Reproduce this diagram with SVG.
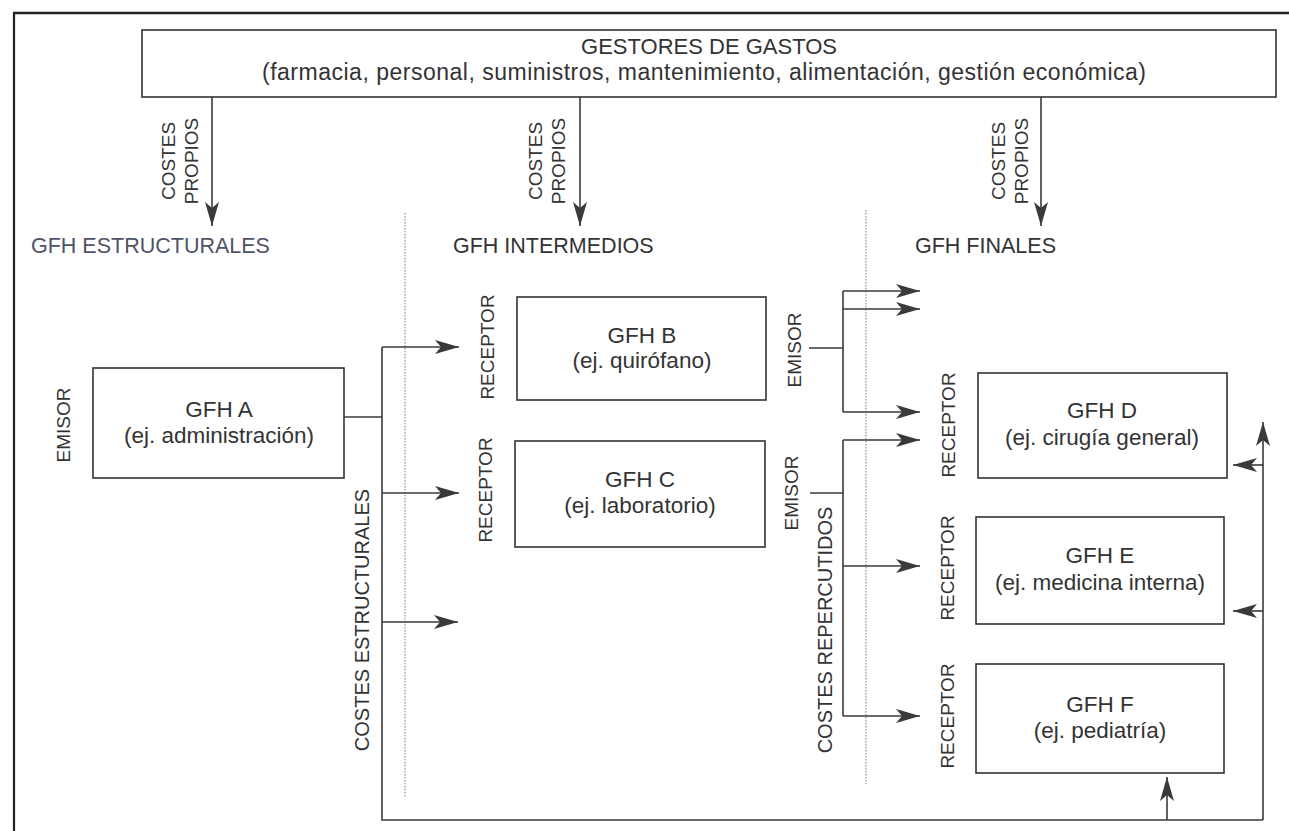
<svg xmlns="http://www.w3.org/2000/svg" width="1289" height="831" viewBox="0 0 1289 831">
<style>
.frame{stroke:#222;fill:none}
.box{fill:#fff;stroke:#333;stroke-width:1.6}
.t{font-family:"Liberation Sans",Arial,sans-serif;fill:#333}
.node{font-size:22.5px;text-anchor:middle}
.head{font-size:21.5px}
.rot{font-size:19px;text-anchor:middle;dominant-baseline:central}
.big{font-size:20px}
.ln{stroke:#3a3a3a;stroke-width:1.6;fill:none}
.arr{marker-end:url(#ah)}
.dot{stroke:#999;stroke-width:1.3;stroke-dasharray:1.5 1.5;fill:none}
</style>
<defs>
<marker id="ah" viewBox="0 0 24 14" refX="24" refY="7" markerWidth="24" markerHeight="14" markerUnits="userSpaceOnUse" orient="auto">
<path d="M0,0 L24,7 L0,14 L6,7 Z" fill="#3a3a3a"/>
</marker>
</defs>
<rect width="1289" height="831" fill="#fff"/>
<g id="frame">
<line class="frame" x1="13" y1="13" x2="1289" y2="13" stroke-width="2.6"/>
<line class="frame" x1="14" y1="13" x2="14" y2="831" stroke-width="2.2"/>
</g>
<g id="gestores">
<rect class="box" x="142" y="30" width="1134" height="67"/>
<text class="t" x="709" y="54" font-size="22" text-anchor="middle">GESTORES DE GASTOS</text>
<text class="t" x="262" y="80" font-size="23" textLength="884">(farmacia, personal, suministros, mantenimiento, alimentación, gestión económica)</text>
</g>
<g id="headings">
<text class="t head" x="31" y="253" style="fill:#4e5468">GFH ESTRUCTURALES</text>
<text class="t head" x="453" y="253">GFH INTERMEDIOS</text>
<text class="t head" x="915" y="253">GFH FINALES</text>
</g>
<g id="dividers">
<line class="dot" x1="405" y1="213" x2="405" y2="797"/>
<line class="dot" x1="866" y1="210" x2="866" y2="784"/>
</g>
<g id="gfh-a">
<rect class="box" x="93" y="368" width="251" height="110"/>
<text class="t node" x="219" y="417">GFH A</text>
<text class="t node" x="219" y="443">(ej. administración)</text>
</g>
<g id="gfh-b">
<rect class="box" x="517" y="297" width="249" height="103"/>
<text class="t node" x="642" y="343">GFH B</text>
<text class="t node" x="642" y="368">(ej. quirófano)</text>
</g>
<g id="gfh-c">
<rect class="box" x="515" y="441" width="250" height="106"/>
<text class="t node" x="640" y="487">GFH C</text>
<text class="t node" x="640" y="513">(ej. laboratorio)</text>
</g>
<g id="gfh-d">
<rect class="box" x="978" y="373" width="249" height="105"/>
<text class="t node" x="1102" y="418">GFH D</text>
<text class="t node" x="1102" y="445">(ej. cirugía general)</text>
</g>
<g id="gfh-e">
<rect class="box" x="976" y="517" width="248" height="107"/>
<text class="t node" x="1100" y="563">GFH E</text>
<text class="t node" x="1100" y="590">(ej. medicina interna)</text>
</g>
<g id="gfh-f">
<rect class="box" x="976" y="664" width="248" height="109"/>
<text class="t node" x="1100" y="712">GFH F</text>
<text class="t node" x="1100" y="738">(ej. pediatría)</text>
</g>
<g id="labels">
<text class="t rot" transform="translate(168,161) rotate(-90)">COSTES</text>
<text class="t rot" transform="translate(191,161) rotate(-90)">PROPIOS</text>
<text class="t rot" transform="translate(535,161) rotate(-90)">COSTES</text>
<text class="t rot" transform="translate(558,161) rotate(-90)">PROPIOS</text>
<text class="t rot" transform="translate(998,161) rotate(-90)">COSTES</text>
<text class="t rot" transform="translate(1021,161) rotate(-90)">PROPIOS</text>
<text class="t rot" transform="translate(63,425) rotate(-90)">EMISOR</text>
<text class="t rot" transform="translate(487,347) rotate(-90)">RECEPTOR</text>
<text class="t rot" transform="translate(485,490) rotate(-90)">RECEPTOR</text>
<text class="t rot" transform="translate(794,350) rotate(-90)">EMISOR</text>
<text class="t rot" transform="translate(791,493) rotate(-90)">EMISOR</text>
<text class="t rot big" transform="translate(362,620) rotate(-90)">COSTES ESTRUCTURALES</text>
<text class="t rot big" transform="translate(825,630) rotate(-90)">COSTES REPERCUTIDOS</text>
<text class="t rot" transform="translate(948,425) rotate(-90)">RECEPTOR</text>
<text class="t rot" transform="translate(947,568) rotate(-90)">RECEPTOR</text>
<text class="t rot" transform="translate(947,716) rotate(-90)">RECEPTOR</text>
</g>
<g id="connectors">
<line class="ln arr" x1="212" y1="97" x2="212" y2="226"/>
<line class="ln arr" x1="580" y1="97" x2="580" y2="226"/>
<line class="ln arr" x1="1041" y1="97" x2="1041" y2="226"/>
<polyline class="ln" points="344,417 382,417"/>
<polyline class="ln" points="382,347 382,820 1263,820"/>
<line class="ln arr" x1="382" y1="347" x2="459" y2="347"/>
<line class="ln arr" x1="382" y1="493" x2="459" y2="493"/>
<line class="ln arr" x1="382" y1="622" x2="458" y2="622"/>
<line class="ln arr" x1="1263" y1="820" x2="1263" y2="422"/>
<line class="ln arr" x1="1263" y1="465" x2="1233" y2="465"/>
<line class="ln arr" x1="1263" y1="611" x2="1233" y2="611"/>
<line class="ln arr" x1="1167" y1="820" x2="1167" y2="777"/>
<polyline class="ln" points="809,348 843,348"/>
<polyline class="ln" points="843,291 843,412"/>
<line class="ln arr" x1="843" y1="291" x2="920" y2="291"/>
<line class="ln arr" x1="843" y1="309" x2="920" y2="309"/>
<line class="ln arr" x1="843" y1="412" x2="920" y2="412"/>
<polyline class="ln" points="810,493 843,493"/>
<polyline class="ln" points="843,440 843,716"/>
<line class="ln arr" x1="843" y1="440" x2="920" y2="440"/>
<line class="ln arr" x1="843" y1="566" x2="920" y2="566"/>
<line class="ln arr" x1="843" y1="716" x2="920" y2="716"/>
</g>
</svg>
